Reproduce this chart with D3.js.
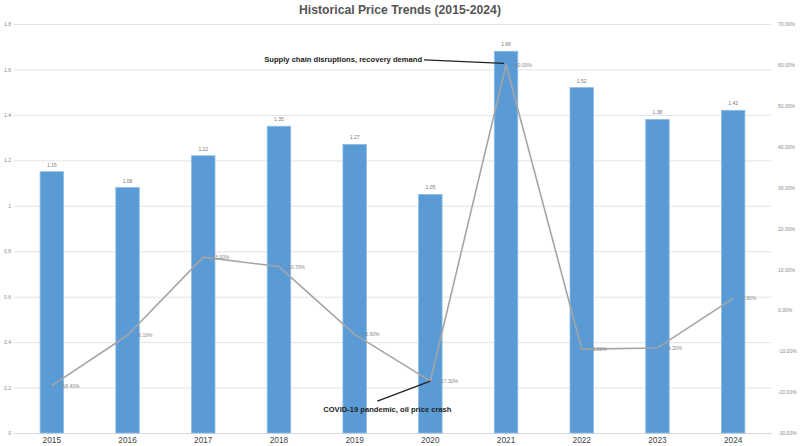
<!DOCTYPE html>
<html>
<head>
<meta charset="utf-8">
<script src="https://d3js.org/d3.v7.min.js"></script>
<style>
  body { margin: 0; background: #fff; }
  text { font-family: "Liberation Sans", Arial, sans-serif; }
</style>
</head>
<body>
<svg id="chart" width="800" height="446"></svg>
<script>
var years = ["2015", "2016", "2017", "2018", "2019", "2020", "2021", "2022", "2023", "2024"];
var prices = [1.15, 1.08, 1.22, 1.35, 1.27, 1.05, 1.68, 1.52, 1.38, 1.42];
var changes = [-18.4, -6.1, 13.0, 10.7, -5.9, -17.3, 60.0, -9.5, -9.2, 2.9];
var leftTicks = [0, 0.2, 0.4, 0.6, 0.8, 1, 1.2, 1.4, 1.6, 1.8];
var rightTicks = [-30, -20, -10, 0, 10, 20, 30, 40, 50, 60, 70];
var notes = [
  {year: "2021", text: "Supply chain disruptions, recovery demand"},
  {year: "2020", text: "COVID-19 pandemic, oil price crash"}
];

var svg = d3.select("#chart"),
    margin = {top: 24, right: 29, bottom: 13, left: 14},
    width = +svg.attr("width") - margin.left - margin.right,
    height = +svg.attr("height") - margin.top - margin.bottom,
    g = svg.append("g").attr("transform", "translate(" + margin.left + "," + margin.top + ")");

var data = years.map(function(y, i) { return {year: y, price: prices[i], change: changes[i]}; });

var x = d3.scaleBand()
    .domain(years)
    .range([0, width])
    .paddingInner(0.69)
    .paddingOuter(0.345);

var y = d3.scaleLinear()
    .domain([0, 1.8])
    .range([height, 0]);

var y2 = d3.scaleLinear()
    .domain([-30, 70])
    .range([height, 0]);

function cx(yr) { return x(yr) + x.bandwidth() / 2; }

// gridlines
g.append("g")
    .call(d3.axisLeft(y).tickValues(leftTicks).tickSize(-width).tickFormat(""))
    .call(function(a) { a.select(".domain").remove(); })
    .selectAll("line")
    .attr("stroke", "#e3e3e3")
    .attr("stroke-width", 1);

// left axis labels
g.append("g")
    .call(d3.axisLeft(y).tickValues(leftTicks).tickSize(0).tickPadding(3)
        .tickFormat(function(d) { return d3.format("")(+d.toFixed(1)); }))
    .call(function(a) { a.select(".domain").remove(); })
    .selectAll("text")
    .attr("fill", "#8a8a8a")
    .style("font-size", "5px");

// right axis labels
g.append("g")
    .attr("transform", "translate(" + (width + 6) + ",0)")
    .call(d3.axisRight(y2).tickValues(rightTicks).tickSize(0).tickPadding(1)
        .tickFormat(function(d) { return d.toFixed(2) + "%"; }))
    .call(function(a) { a.select(".domain").remove(); })
    .selectAll("text")
    .attr("fill", "#8a8a8a")
    .style("font-size", "5px");

// bottom axis
g.append("g")
    .attr("transform", "translate(0," + height + ")")
    .call(d3.axisBottom(x).tickSize(0).tickPadding(4))
    .call(function(a) { a.select(".domain").attr("stroke", "#d9d9d9"); })
    .selectAll("text")
    .attr("fill", "#444")
    .style("font-size", "8.3px");

// bars
g.selectAll(".bar")
    .data(data)
    .enter().append("rect")
    .attr("class", "bar")
    .attr("x", function(d) { return x(d.year); })
    .attr("y", function(d) { return y(d.price); })
    .attr("width", x.bandwidth())
    .attr("height", function(d) { return height - y(d.price); })
    .attr("fill", "#5b9bd5")
    .attr("stroke", "#8dbbe6")
    .attr("stroke-width", 0.8);

// bar labels
g.selectAll(".barlabel")
    .data(data)
    .enter().append("text")
    .attr("class", "barlabel")
    .attr("x", function(d) { return cx(d.year); })
    .attr("y", function(d) { return y(d.price) - 5; })
    .attr("text-anchor", "middle")
    .attr("fill", "#777")
    .style("font-size", "5px")
    .text(function(d) { return d.price.toFixed(2); });

// change line
var line = d3.line()
    .x(function(d) { return cx(d.year); })
    .y(function(d) { return y2(d.change); });

g.append("path")
    .datum(data)
    .attr("fill", "none")
    .attr("stroke", "#a5a5a5")
    .attr("stroke-width", 1.6)
    .attr("stroke-linejoin", "round")
    .attr("d", line);

g.selectAll(".linelabel")
    .data(data)
    .enter().append("text")
    .attr("class", "linelabel")
    .attr("x", function(d) { return cx(d.year) + 9; })
    .attr("y", function(d) { return y2(d.change) + 2; })
    .attr("fill", "#888")
    .style("font-size", "5px")
    .text(function(d) { return d.change.toFixed(2) + "%"; });

// annotations
var n0 = data[years.indexOf(notes[0].year)];
g.append("line")
    .attr("x1", cx(n0.year) - 82).attr("y1", y2(n0.change) - 5)
    .attr("x2", cx(n0.year) - 2).attr("y2", y2(n0.change) - 1.5)
    .attr("stroke", "#222").attr("stroke-width", 1.3);
g.append("text")
    .attr("x", cx(n0.year) - 84).attr("y", y2(n0.change) - 2.5)
    .attr("text-anchor", "end")
    .attr("font-weight", "bold")
    .attr("fill", "#222")
    .style("font-size", "7.6px")
    .text(notes[0].text);

var n1 = data[years.indexOf(notes[1].year)];
g.append("line")
    .attr("x1", cx(n1.year) - 53).attr("y1", y2(n1.change) + 20)
    .attr("x2", cx(n1.year)).attr("y2", y2(n1.change))
    .attr("stroke", "#222").attr("stroke-width", 1.3);
g.append("text")
    .attr("x", cx(n1.year) - 43).attr("y", y2(n1.change) + 30.5)
    .attr("text-anchor", "middle")
    .attr("font-weight", "bold")
    .attr("fill", "#222")
    .style("font-size", "7.6px")
    .text(notes[1].text);

// title
svg.append("text")
    .attr("x", 400)
    .attr("y", 14)
    .attr("text-anchor", "middle")
    .attr("font-weight", "bold")
    .attr("fill", "#555")
    .style("font-size", "12.2px")
    .text("Historical Price Trends (2015-2024)");
</script>
</body>
</html>
